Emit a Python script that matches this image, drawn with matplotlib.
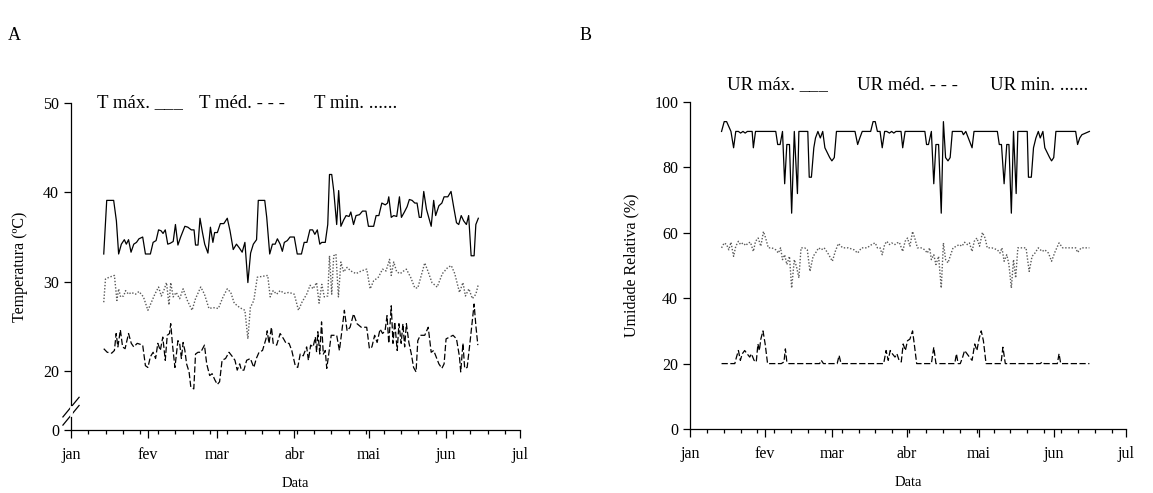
from matplotlib import pyplot as plt
from matplotlib.ticker import FixedLocator, NullFormatter

plt.rcParams['font.family'] = ['Liberation Serif', 'DejaVu Serif']

# eixo x: dia do ano
month_days = [0, 31, 59, 90, 120, 151, 181]
month_labels = ['jan', 'fev', 'mar', 'abr', 'mai', 'jun', 'jul']

# ---- A: temperatura ----
tmax_day = [13.2, 14.4, 17.2, 18.3, 19.2, 20.3, 21.5, 22.3, 23.2, 24.2, 25.3, 26.4, 27.4, 28.9, 30.0, 32.0,
            33.1, 34.3, 35.3, 36.3, 37.1, 38.0, 39.0, 40.0, 41.2, 42.1, 43.1, 44.2, 45.9, 47.1, 48.5, 49.6,
            50.2, 51.2, 52.0, 53.0, 53.9, 55.2, 56.2, 57.2, 57.9, 59.0, 60.2, 61.6, 63.0, 64.1, 65.4, 66.7,
            67.8, 69.0, 70.1, 71.3, 72.4, 73.5, 74.8, 75.5, 78.1, 78.9, 80.1, 81.2, 82.3, 83.2, 84.3, 85.2,
            86.0, 87.2, 88.3, 90.0, 91.2, 92.9, 94.0, 95.1, 96.3, 97.4, 98.3, 99.3, 100.3, 101.1, 102.5,
            103.5, 104.2, 105.1, 105.9, 107.1, 107.9, 108.8, 109.9, 110.9, 112.1, 112.8, 113.9, 114.9,
            116.3, 117.5, 118.9, 119.9, 122.0, 123.0, 124.1, 125.3, 126.7, 127.6, 128.1, 129.1, 130.1,
            131.3, 132.4, 133.2, 134.4, 135.5, 136.4, 137.5, 138.6, 139.5, 140.4, 141.2, 142.2, 143.3,
            145.2, 146.2, 147.0, 148.3, 149.5, 150.4, 151.9, 153.2, 154.3, 155.4, 156.3, 157.3, 158.3,
            159.4, 160.3, 161.3, 162.5, 163.2, 164.2]
tmax = [33.1, 39.1, 39.1, 36.8, 33.1, 34.2, 34.7, 34.2, 34.7, 33.3, 34.2, 34.4, 34.8, 35.0, 33.1, 33.1,
        34.4, 34.6, 35.8, 35.7, 35.4, 35.8, 34.2, 34.3, 34.5, 36.4, 34.1, 35.0, 36.2, 36.1, 35.8, 35.8,
        34.1, 34.1, 37.1, 35.5, 34.2, 33.2, 36.1, 34.4, 35.5, 35.5, 36.5, 36.5, 37.1, 35.7, 33.6, 34.2,
        33.8, 33.3, 34.4, 29.9, 33.2, 34.2, 34.7, 39.1, 39.1, 37.2, 33.1, 34.2, 34.2, 34.8, 34.2, 33.4,
        34.4, 34.6, 35.0, 35.0, 33.1, 33.1, 34.4, 34.4, 35.8, 35.8, 35.3, 35.8, 34.2, 34.4, 34.4,
        36.4, 42.0, 42.0, 40.2, 36.4, 40.2, 36.2, 36.9, 37.4, 37.3, 37.8, 36.4, 37.4,
        37.5, 37.9, 37.9, 36.2, 36.2, 37.4, 37.4, 38.8, 38.6, 38.8, 39.5, 37.2, 37.4,
        37.3, 39.5, 37.2, 37.8, 38.4, 39.2, 39.1, 38.8, 38.8, 37.2, 37.2, 40.1, 38.1,
        36.2, 39.1, 37.4, 38.5, 38.8, 39.5, 39.5, 40.1, 38.3, 36.6, 36.4, 37.4, 36.8,
        36.4, 37.4, 32.9, 32.9, 36.4, 37.1]

tmed_day = [13.2, 13.9, 15.4, 17.5, 18.5, 19.2, 20.0, 21.2, 22.0, 23.2, 24.3, 26.0, 27.4, 29.2, 31.0, 32.1,
            33.8, 35.3, 36.4, 37.4, 38.5, 39.5, 40.2, 41.2, 42.4, 43.8, 45.2, 46.9, 48.8, 50.2, 52.3, 53.8,
            55.6, 57.3, 59.4, 61.3, 63.0, 64.4, 65.8, 68.0, 70.1, 71.3, 72.3, 73.7, 75.1, 77.2, 79.3, 80.3,
            81.5, 82.9, 84.3, 86.0, 87.9, 90.0, 91.7, 93.1, 95.0, 96.4, 97.6, 99.0, 100.0, 101.1, 102.1,
            103.5, 104.2, 105.1, 105.9, 106.8, 107.8, 108.8, 109.9, 111.3, 112.8, 114.9, 117.0, 119.2,
            120.6, 122.0, 123.9, 125.6, 127.0, 128.4, 129.1, 130.1, 131.3, 132.7, 134.1, 135.2, 136.9,
            138.6, 139.8, 141.2, 142.6, 144.0, 145.5, 147.6, 149.7, 151.9, 153.3, 154.7, 156.6, 158.0,
            159.0, 160.4, 161.8, 163.2, 164.2]
tmed = [27.7, 30.3, 30.5, 30.7, 27.9, 29.2, 28.3, 28.4, 29.0, 28.6, 28.8, 28.6, 28.9, 28.3, 26.8, 27.5,
        28.6, 29.4, 28.4, 29.0, 29.9, 27.4, 29.9, 28.3, 28.8, 28.1, 29.2, 27.9, 26.8, 28.1, 29.4, 28.6,
        27.0, 27.1, 27.0, 28.3, 29.2, 28.8, 27.6, 27.1, 26.8, 23.6, 27.1, 27.9, 30.5, 30.6, 30.7, 28.3,
        29.0, 28.6, 29.0, 28.7, 28.8, 28.6, 26.8, 27.7, 28.6, 29.6, 29.2, 29.9, 27.6, 29.7, 28.3,
        28.4, 32.9, 28.6, 32.9, 33.1, 28.3, 32.2, 31.1, 31.6, 31.2, 30.9, 31.2, 31.4,
        29.2, 30.1, 30.5, 31.4, 31.2, 32.5, 30.7, 32.2, 31.1, 30.9, 31.2, 31.4, 30.5,
        29.3, 29.3, 30.7, 32.1, 31.1, 29.9, 29.4, 30.9, 31.6, 31.8, 30.9, 28.8, 29.9,
        28.4, 29.2, 28.1, 28.6, 29.7]

tmin_day = [13.2, 14.6, 16.4, 17.5, 18.2, 18.9, 19.9, 20.8, 21.8, 23.2, 24.3, 25.3, 26.7, 28.9, 30.0, 31.0,
            32.0, 33.1, 34.1, 35.0, 36.0, 37.0, 38.0, 38.8, 39.7, 40.2, 41.0, 41.9, 43.1, 43.8, 44.5, 45.2,
            45.9, 46.6, 47.6, 48.3, 49.5, 50.2, 51.2, 52.3, 53.8, 54.7, 55.9, 56.9, 58.0, 59.0, 59.9, 60.9,
            62.3, 63.7, 65.1, 66.1, 67.0, 68.0, 68.7, 69.7, 70.8, 72.3, 73.7, 74.7, 75.8, 77.2, 78.6, 79.1,
            79.8, 80.8, 81.5, 82.9, 84.3, 85.7, 86.7, 87.9, 89.0, 90.4, 91.4, 92.4, 93.6, 95.0, 95.7, 96.6,
            97.6, 98.5, 99.0, 99.5, 100.3, 101.0, 101.7, 102.5, 103.1, 103.9, 104.9, 107.1, 108.2, 109.2,
            110.2, 111.3, 112.5, 113.9, 115.3, 117.0, 119.2, 120.3, 121.3, 122.4, 123.4, 124.6, 125.6,
            126.6, 127.4, 128.1, 129.1, 129.8, 130.5, 131.5, 132.2, 133.1, 133.8, 134.5, 135.2, 136.2,
            137.2, 138.1, 139.1, 139.8, 140.8, 142.6, 144.0, 145.2, 146.2, 147.2, 148.3, 149.5, 150.4,
            151.2, 152.6, 154.0, 155.4, 156.6, 157.1, 158.0, 158.7, 159.7, 160.8, 161.8, 162.5, 163.2, 164.0]
tmin = [22.5, 22.1, 22.0, 22.3, 24.2, 22.7, 24.6, 22.7, 22.5, 24.2, 23.1, 22.7, 23.1, 22.9, 20.6, 20.4,
        21.6, 22.1, 21.4, 23.1, 22.3, 23.8, 21.2, 24.0, 24.2, 25.3, 22.7, 20.4, 23.4, 23.1, 21.4, 23.2,
        22.3, 20.8, 19.9, 18.2, 18.0, 21.9, 22.1, 22.1, 22.9, 20.8, 19.5, 19.7, 19.0, 18.5, 18.8, 21.2,
        21.4, 22.1, 21.6, 21.2, 20.1, 20.8, 20.1, 20.1, 21.2, 21.4, 20.4, 21.4, 22.1, 22.3, 23.6, 24.5,
        23.1, 24.9, 23.1, 22.9, 24.2, 23.6, 23.1, 23.1, 22.3, 20.6, 20.4, 21.9, 21.7, 22.7, 21.2, 22.9,
        22.7, 23.8, 22.1, 24.4, 21.9, 25.5, 21.9, 22.3, 20.3, 21.9, 24.0, 24.0, 22.3, 24.5,
        26.8, 24.5, 24.9, 26.4, 25.3, 24.9, 24.9, 22.5, 22.7, 24.0, 23.2, 24.7, 24.2,
        24.5, 26.2, 23.1, 27.3, 23.1, 25.5, 22.3, 25.3, 23.1, 25.3, 22.7, 25.3, 23.2,
        21.9, 20.4, 19.9, 23.4, 24.0, 24.0, 24.9, 22.1, 22.3, 21.6, 20.8, 20.3, 20.8,
        23.6, 23.8, 24.0, 23.6, 21.6, 19.9, 23.1, 20.3, 20.4, 23.1, 25.7, 27.5, 25.1, 22.9]

# ---- B: umidade relativa ----
urmax_day = [13.1, 14.2, 15.2, 16.1, 17.0, 18.1, 19.0, 20.1, 21.0, 22.0, 22.9, 23.8, 25.8, 26.3, 27.2,
             35.6, 36.4, 37.4, 38.4, 39.3, 40.2, 41.3, 42.2, 43.3, 44.6, 45.2, 48.9, 49.5, 50.4, 51.4,
             52.1, 53.1, 54.1, 55.1, 56.0, 58.0, 58.9, 59.9, 60.8, 68.5, 69.6, 70.5, 71.5, 75.0, 76.0,
             76.9, 77.8, 78.9, 79.8, 80.8, 81.7, 82.8, 83.7, 84.6, 85.5, 87.6, 88.3, 89.3, 97.5, 98.2,
             99.0, 100.2, 101.2, 102.1, 103.2, 104.3, 105.2, 106.1, 107.1, 108.0, 108.9, 112.9, 113.5,
             114.5, 117.1, 117.9, 127.6, 128.4, 129.3, 130.4, 131.5, 132.4, 133.4, 134.3, 135.4, 136.1,
             140.0, 140.5, 141.7, 142.6, 143.6, 144.6, 145.4, 146.5, 147.3, 149.3, 150.1, 151.0, 151.9,
             160.1, 160.9, 161.8, 162.7, 165.8]
urmax = [91, 94, 94, 92.5, 91, 86, 91, 91, 90.5, 91, 90.5, 91, 91, 86, 91,
         91, 87, 87, 91, 75, 87, 87, 66, 91, 72, 91, 91, 77, 77, 86,
         89, 91, 89, 91, 86, 83, 82, 83, 91, 91, 87, 89, 91, 91, 94,
         94, 91, 91, 86, 91, 91, 90.5, 91, 90.5, 91, 91, 86, 91, 91, 87,
         87, 91, 75, 87, 87, 66, 94, 83, 82, 83, 91, 91, 90,
         91, 86, 91, 91, 87, 87, 75, 87, 87, 66, 91, 72, 91,
         91, 77, 77, 86, 89, 91, 89, 91, 86, 83, 82, 83, 91,
         91, 87, 89, 90, 91]

urmed_day = [13.1, 14.2, 15.2, 16.1, 17.0, 18.1, 19.0, 20.1, 21.0, 22.0, 23.2, 24.1, 25.1, 26.3, 27.2,
             28.3, 29.4, 30.5, 31.4, 32.5, 34.0, 35.6, 36.7, 37.6, 38.4, 39.3, 40.2, 41.3, 42.2, 43.3,
             44.2, 45.2, 46.1, 47.6, 48.7, 49.8, 51.1, 52.1, 53.4, 54.5, 55.7, 57.2, 59.1, 60.3, 61.6,
             63.4, 65.7, 68.1, 69.6, 71.2, 73.5, 75.8, 76.9, 77.8, 78.9, 79.8, 80.8, 81.7, 82.8, 83.7,
             85.1, 86.0, 86.9, 88.3, 89.3, 90.3, 91.3, 92.4, 93.3, 94.4, 95.9, 97.5, 98.5, 99.5, 100.2,
             101.2, 102.1, 103.2, 104.3, 105.2, 106.1, 107.1, 108.0, 109.2, 110.6, 111.7, 112.9, 114.0,
             115.1, 116.0, 117.1, 118.0, 119.1, 120.2, 121.4, 122.5, 123.4, 125.3, 127.6, 128.7, 129.5,
             130.4, 131.5, 132.4, 133.4, 134.3, 135.2, 136.1, 139.5, 140.8, 142.0, 143.2, 144.6, 146.2,
             147.3, 148.8, 150.1, 151.6, 153.2, 154.7, 157.0, 160.1, 160.9, 162.4, 165.8]
urmed = [55.4, 56.9, 56.4, 54.8, 57.1, 52.8, 55.9, 57.4, 56.4, 56.9, 56.1, 56.9, 57.1, 54.3, 57.4,
         58.4, 55.9, 60.4, 58.4, 55.4, 55.4, 54.8, 53.8, 55.4, 51.8, 53.3, 50.3, 52.8, 43.1, 51.8,
         49.7, 46.2, 55.4, 55.4, 54.8, 48.2, 52.8, 53.8, 55.4, 54.8, 55.4, 53.8, 51.3, 54.3, 56.7,
         55.4, 55.4, 54.8, 53.8, 55.4, 55.4, 56.6, 56.9, 55.4, 55.4, 53.3, 56.4, 57.4, 56.4, 56.9,
         56.4, 56.9, 57.1, 54.3, 57.4, 58.4, 55.9, 60.4, 58.4, 55.4, 55.4, 54.8, 53.8, 55.4, 51.8,
         53.3, 50.3, 52.8, 43.1, 56.9, 51.8, 50.8, 52.8, 55.4, 55.9, 56.4, 55.9, 57.1,
         56.4, 56.9, 54.3, 57.4, 58.4, 55.9, 60.1, 58.4, 55.4, 55.4, 54.8, 53.8, 55.4,
         51.3, 53.3, 50.3, 43.1, 51.8, 46.2, 55.4, 55.4, 48.2, 52.8, 53.8, 55.4, 54.3,
         54.8, 53.8, 51.3, 54.3, 56.9, 55.4, 55.4, 55.4, 54.0, 55.4, 55.4]

urmin_day = [13.1, 18.6, 19.3, 20.1, 20.9, 21.7, 22.7, 23.7, 24.8, 25.5, 26.6, 27.5, 28.2, 28.8, 29.4,
             30.3, 31.2, 32.2, 37.9, 39.0, 39.6, 40.2, 41.0, 53.8, 54.5, 55.4, 61.1, 61.9, 62.7,
             80.4, 81.4, 82.3, 83.1, 84.0, 85.1, 85.9, 86.8, 87.7, 88.5, 89.4, 90.3, 91.3, 92.4, 93.1,
             94.1, 100.2, 101.2, 102.1, 109.9, 110.6, 111.3, 112.2, 113.2, 114.0, 115.0, 116.0, 117.1,
             118.2, 119.1, 120.0, 120.9, 121.8, 122.9, 129.1, 129.9, 130.9, 145.4, 146.2, 147.0,
             152.5, 153.2, 153.9, 165.8]
urmin = [20, 20, 22, 24, 21, 23, 24, 23, 22, 23, 21, 20.5, 26, 24, 27.5,
         30, 26, 20, 20, 20.5, 24.5, 20.5, 20, 20, 21, 20, 20, 22.5, 20,
         20, 24, 21, 24, 23, 22, 23, 21, 20.5, 26, 24, 27, 27.5, 30, 26,
         20, 20, 25, 20, 20, 23, 20, 20, 22, 24, 23, 22, 21,
         26, 24, 27.5, 30, 27, 20, 20, 25, 20, 20, 20.5, 20,
         20, 23, 20, 20]

legend_A = ['T máx. ___', 'T méd. - - -', 'T min. ......']
legend_B = ['UR máx. ___', 'UR méd. - - -', 'UR min. ......']


def style_axis(ax, ylabel, ylab_x):
    for s in ['top', 'right']:
        ax.spines[s].set_visible(False)
    ax.spines['left'].set_linewidth(0.9)
    ax.spines['bottom'].set_linewidth(0.9)
    ax.set_xlim(month_days[0], month_days[-1])
    ax.xaxis.set_major_locator(FixedLocator(month_days))
    ax.set_xticklabels(month_labels)
    ax.xaxis.set_minor_locator(FixedLocator([d for d in range(0, 182, 7) if d not in month_days]))
    ax.xaxis.set_minor_formatter(NullFormatter())
    ax.tick_params(axis='x', which='major', direction='out', length=6, width=0.9, labelsize=11.5, pad=6)
    ax.tick_params(axis='x', which='minor', direction='out', length=3, width=0.9)
    ax.tick_params(axis='y', direction='out', length=5, width=0.9, labelsize=11.5)
    ax.set_xlabel('Data', fontsize=10.5, labelpad=10)
    ax.set_ylabel(ylabel, fontsize=11.5)
    ax.yaxis.set_label_coords(ylab_x, 0.5)


fig = plt.figure(figsize=(11.53, 4.93), dpi=100)
W, H = 1153.0, 493.0

# painel A
axA = fig.add_axes([71 / W, 1 - 430 / H, (520 - 71) / W, (430 - 103) / H])
axA.plot(tmax_day, tmax, color='black', lw=0.9)
axA.plot(tmed_day, tmed, color='0.35', lw=1.0, linestyle=(0, (1, 1.3)))
axA.plot(tmin_day, tmin, color='black', lw=0.9, linestyle=(0, (5, 2)))
ybot = 13.4
axA.set_ylim(ybot, 50)
axA.yaxis.set_major_locator(FixedLocator([ybot, 20, 30, 40, 50]))
axA.set_yticklabels(['0', '20', '30', '40', '50'])
style_axis(axA, 'Temperatura (ºC)', -0.096)
# quebra do eixo
for yy in [0.045, 0.07]:
    axA.plot([-0.018, 0.018], [yy - 0.03, yy + 0.03], transform=axA.transAxes,
             color='black', lw=0.9, clip_on=False)
axA.plot([0, 0], [0.045, 0.07], transform=axA.transAxes, color='white', lw=2, clip_on=False, zorder=5)

# painel B
axB = fig.add_axes([690 / W, 1 - 429 / H, (1126 - 690) / W, (429 - 102) / H])
axB.plot(urmax_day, urmax, color='black', lw=0.9)
axB.plot(urmed_day, urmed, color='0.35', lw=1.0, linestyle=(0, (1, 1.3)))
axB.plot(urmin_day, urmin, color='black', lw=0.9, linestyle=(0, (5, 2)))
axB.set_ylim(0, 100)
axB.set_yticks([0, 20, 40, 60, 80, 100])
style_axis(axB, 'Umidade Relativa (%)', -0.115)

for txt, x0 in zip(legend_A, [97, 199, 314]):
    fig.text(x0 / W, 1 - 103 / H, txt, fontsize=13.5, va='center', ha='left')
for txt, x0 in zip(legend_B, [727, 857, 990]):
    fig.text(x0 / W, 1 - 85 / H, txt, fontsize=13.5, va='center', ha='left')
fig.text(8 / W, 1 - 35 / H, 'A', fontsize=13, va='center', ha='left')
fig.text(580 / W, 1 - 35 / H, 'B', fontsize=13, va='center', ha='left')

fig.savefig('out.png', dpi=100)
